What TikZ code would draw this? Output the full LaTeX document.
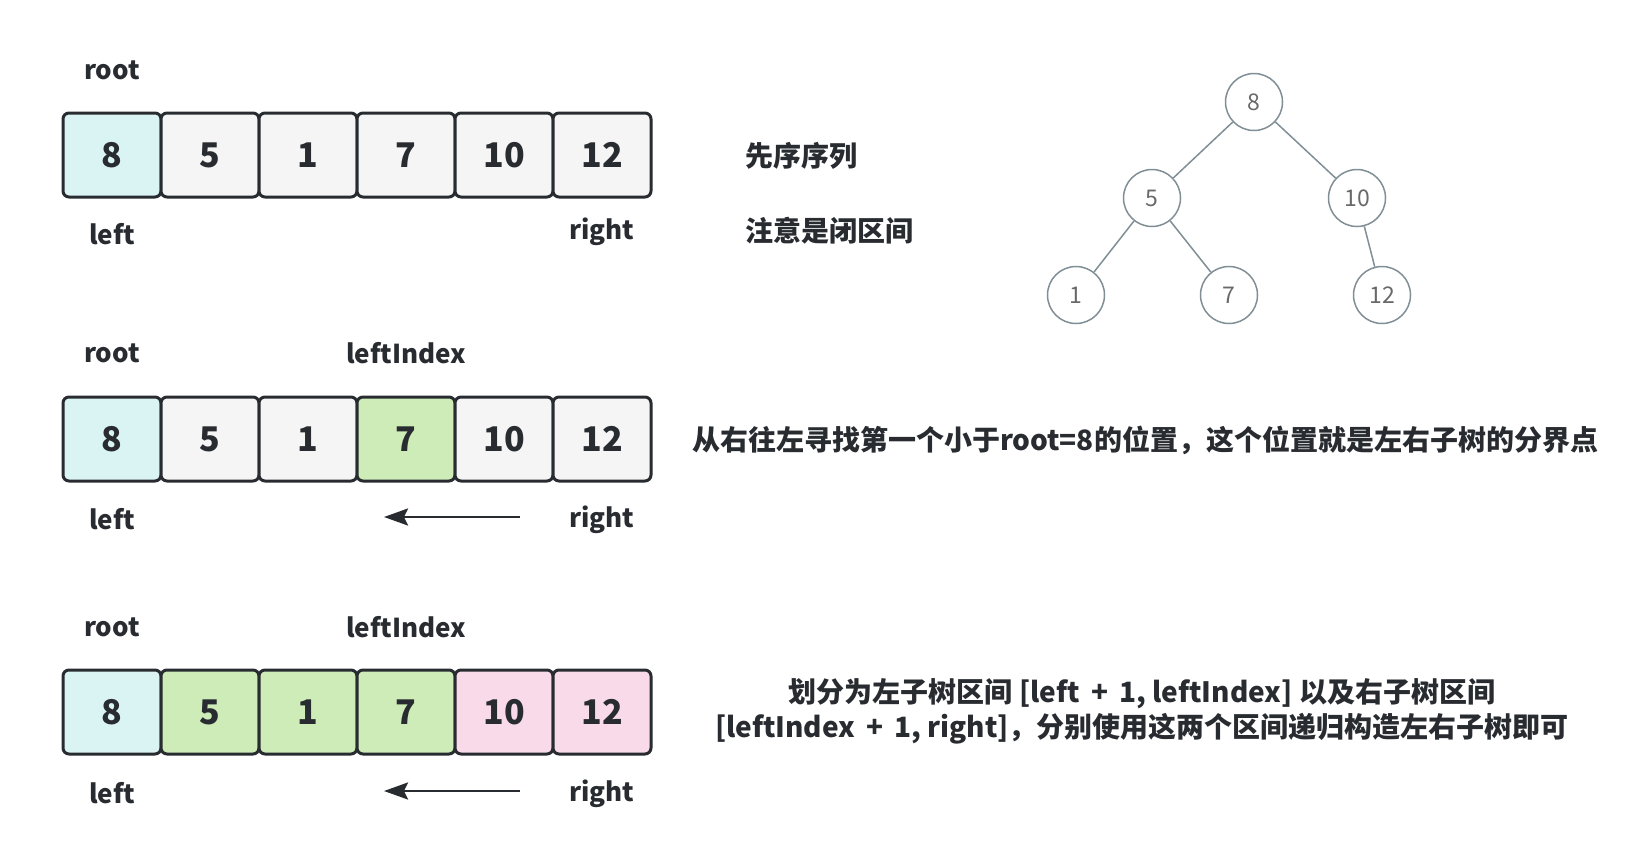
\documentclass[tikz,border=0pt]{standalone}
\usepackage{fontspec}
\setmainfont{Noto Sans CJK SC}
\usetikzlibrary{positioning,arrows.meta}

\definecolor{ink}{RGB}{40,44,48}
\definecolor{rootcol}{RGB}{218,244,244}
\definecolor{idlecol}{RGB}{245,245,245}
\definecolor{leftcol}{RGB}{205,236,184}
\definecolor{rightcol}{RGB}{248,218,232}
\definecolor{treeline}{RGB}{128,142,150}
\definecolor{treetext}{RGB}{105,105,105}

\tikzset{
  cell/.style={draw=ink, line width=3pt, rounded corners=6pt, minimum width=98pt,
    minimum height=84pt, inner sep=0pt, text=ink, font=\fontsize{34}{34}\selectfont\bfseries},
  lbl/.style={text=ink, font=\fontsize{26}{26}\selectfont\bfseries},
  note/.style={text=ink, align=center, font=\fontsize{28}{35}\selectfont\bfseries},
  tnode/.style={circle, draw=treeline, line width=1.5pt, minimum size=57pt, inner sep=0pt,
    text=treetext, font=\fontsize{23}{23}\selectfont},
  tedge/.style={draw=treeline, line width=1.5pt},
  pointer/.style={draw=ink, line width=2.5pt, -{Stealth[length=24pt,width=17pt,inset=4pt]}}
}

\begin{document}
\begin{tikzpicture}[x=1pt, y=-1pt]
  \useasboundingbox (0,0) rectangle (1650,860);

  % preorder array
  \foreach \v/\c [count=\i] in {8/rootcol,5/idlecol,1/idlecol,7/idlecol,10/idlecol,12/idlecol}
    \node[cell, fill=\c] (a\i) at ({63+98*(\i-0.5)},155) {\v};
  \node[lbl] (a-root) at ([yshift=85pt]a1.center) {root};
  \node[lbl] (a-left) at ([yshift=-79pt]a1.center) {left};
  \node[lbl] (a-right) at ([yshift=-77pt]a6.center) {right};
  \node[note, anchor=west] (a-note) at (742,156) {先序序列};
  \node[note, anchor=west] (a-note2) at (742,231) {注意是闭区间};

  % search for leftIndex
  \foreach \v/\c [count=\i] in {8/rootcol,5/idlecol,1/idlecol,7/leftcol,10/idlecol,12/idlecol}
    \node[cell, fill=\c] (b\i) at ({63+98*(\i-0.5)},439) {\v};
  \node[lbl] (b-root) at ([yshift=86pt]b1.center) {root};
  \node[lbl] (b-index) at ([yshift=86pt]b4.center) {leftIndex};
  \node[lbl] (b-left) at ([yshift=-80pt]b1.center) {left};
  \node[lbl] (b-right) at ([yshift=-81pt]b6.center) {right};
  \coordinate (b-tail) at (520,517);
  \coordinate (b-head) at (384,517);
  \draw[pointer] (b-tail) -- (b-head);
  \node[note] (b-note) at (1145,440) {从右往左寻找第一个小于root=8的位置，这个位置就是左右子树的分界点};

  % split into subtrees
  \foreach \v/\c [count=\i] in {8/rootcol,5/leftcol,1/leftcol,7/leftcol,10/rightcol,12/rightcol}
    \node[cell, fill=\c] (c\i) at ({63+98*(\i-0.5)},712) {\v};
  \node[lbl] (c-root) at ([yshift=85pt]c1.center) {root};
  \node[lbl] (c-index) at ([yshift=85pt]c4.center) {leftIndex};
  \node[lbl] (c-left) at ([yshift=-81pt]c1.center) {left};
  \node[lbl] (c-right) at ([yshift=-82pt]c6.center) {right};
  \coordinate (c-tail) at (520,791);
  \coordinate (c-head) at (384,791);
  \draw[pointer] (c-tail) -- (c-head);
  \node[note] (c-note) at (1142,711) {划分为左子树区间 {[}left \,+\, 1, leftIndex{]} 以及右子树区间\\
    {[}leftIndex \,+\, 1, right{]}，分别使用这两个区间递归构造左右子树即可};

  % tree
  \node[tnode] (t8) at (1254,102) {8};
  \node[tnode] (t5) at (1152,198) {5};
  \node[tnode] (t10) at (1357,198) {10};
  \node[tnode] (t1) at (1076,295) {1};
  \node[tnode] (t7) at (1229,295) {7};
  \node[tnode] (t12) at (1382,295) {12};
  \draw[tedge] (t8) -- (t5);
  \draw[tedge] (t8) -- (t10);
  \draw[tedge] (t5) -- (t1);
  \draw[tedge] (t5) -- (t7);
  \draw[tedge] (t10) -- (t12);
\end{tikzpicture}
\end{document}
